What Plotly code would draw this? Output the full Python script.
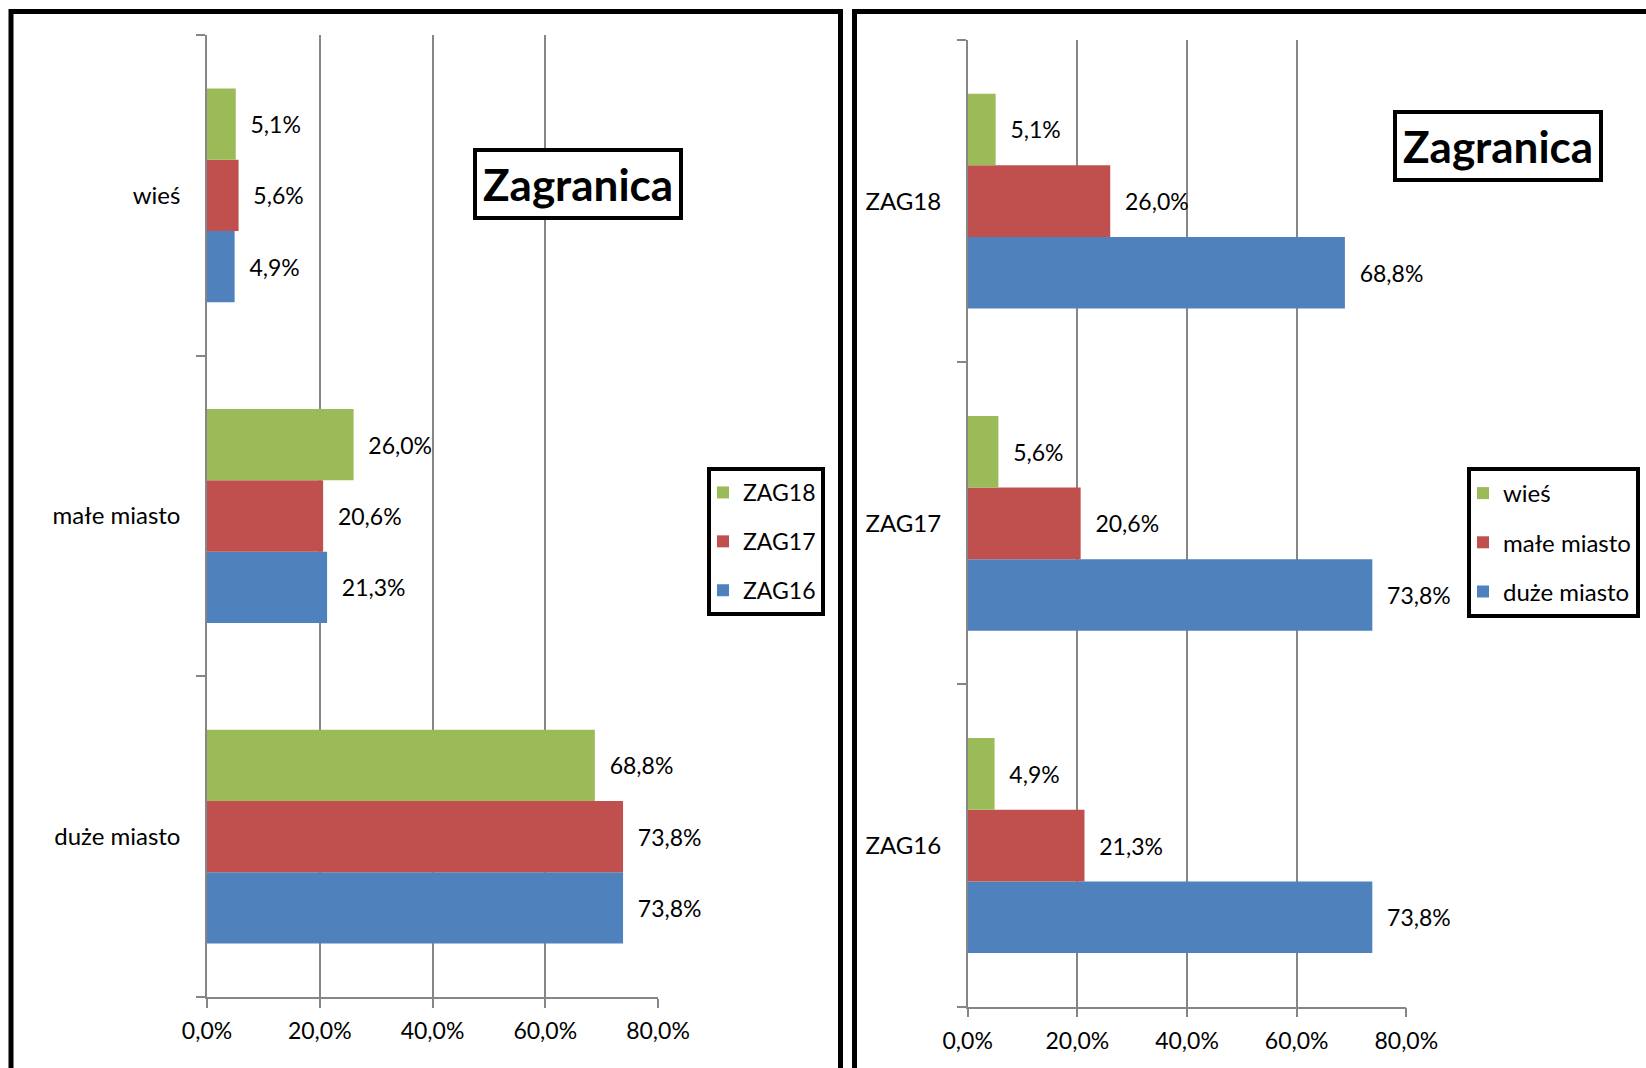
import plotly.graph_objects as go

W, H = 1646, 1068

# ---------------- data ----------------
places = ["duże miasto", "małe miasto", "wieś"]          # bottom -> top (left chart)
years = ["ZAG16", "ZAG17", "ZAG18"]                       # bottom -> top (right chart)

zag16 = [73.8, 21.3, 4.9]   # duże, małe, wieś
zag17 = [73.8, 20.6, 5.6]
zag18 = [68.8, 26.0, 5.1]

duze = [73.8, 73.8, 68.8]   # ZAG16, ZAG17, ZAG18
male = [21.3, 20.6, 26.0]
wies = [4.9, 5.6, 5.1]

tick_vals = [0, 20, 40, 60, 80]
tick_text = ["0,0%", "20,0%", "40,0%", "60,0%", "80,0%"]

title_text = "Zagranica"

GREEN, RED, BLUE = "#9BBB59", "#C0504D", "#4F81BD"
GRID = "#868686"
FONT = "Lato"


def fmt(v):
    return "\u00a0\u00a0" + f"{v:.1f}".replace(".", ",") + "%"


def px_x(p):
    return p / W


def px_y(p):
    return 1 - p / H


fig = go.Figure()

for rank, (name, vals, col) in zip([3, 2, 1], [("ZAG16", zag16, BLUE), ("ZAG17", zag17, RED), ("ZAG18", zag18, GREEN)]):
    fig.add_trace(go.Bar(
        y=places, x=vals, orientation="h", name=name, marker_color=col,
        marker_line_width=0, xaxis="x", yaxis="y", legend="legend",
        legendgroup="L" + name, legendrank=rank,
        text=[fmt(v) for v in vals], textposition="outside", cliponaxis=False,
        constraintext="none", textfont=dict(family=FONT, size=23, color="black"),
        hoverinfo="skip",
    ))

for rank, (name, vals, col) in zip([3, 2, 1], [("duże miasto", duze, BLUE), ("małe miasto", male, RED), ("wieś", wies, GREEN)]):
    fig.add_trace(go.Bar(
        y=years, x=vals, orientation="h", name=name, marker_color=col,
        marker_line_width=0, xaxis="x2", yaxis="y2", legend="legend2",
        legendgroup="R" + name, legendrank=rank,
        text=[fmt(v) for v in vals], textposition="outside", cliponaxis=False,
        constraintext="none", textfont=dict(family=FONT, size=23, color="black"),
        hoverinfo="skip",
    ))

xaxis_common = dict(
    range=[0, 80], tickvals=tick_vals, ticktext=tick_text,
    showgrid=True, gridcolor=GRID, gridwidth=1.5, zeroline=False,
    showline=True, linecolor=GRID, linewidth=1.5,
    ticks="outside", ticklen=9, tickcolor=GRID, tickwidth=1.5,
    ticklabelstandoff=4,
    tickfont=dict(family=FONT, size=23, color="black"),
    fixedrange=True, automargin=False,
)
yaxis_common = dict(
    type="category", showgrid=False, zeroline=False,
    showline=True, linecolor=GRID, linewidth=1.5,
    ticks="outside", ticklen=9, tickcolor=GRID, tickwidth=1.5,
    tickson="boundaries", ticklabelstandoff=20,
    tickfont=dict(family=FONT, size=24, color="black"),
    fixedrange=True, automargin=False,
)

legend_common = dict(
    bordercolor="black", borderwidth=4, bgcolor="white",
    traceorder="grouped", indentation=-8,
    xanchor="left", yanchor="top",
)

fig.update_layout(
    width=W, height=H,
    margin=dict(l=0, r=0, t=0, b=0, autoexpand=False),
    paper_bgcolor="white", plot_bgcolor="white",
    barmode="group", bargap=0.333, bargroupgap=0,
    font=dict(family=FONT, size=23, color="black"),
    xaxis=dict(domain=[px_x(207), px_x(658)], anchor="y", **xaxis_common),
    yaxis=dict(domain=[px_y(997), px_y(35)], anchor="x",
               categoryorder="array", categoryarray=places, **yaxis_common),
    xaxis2=dict(domain=[px_x(967.7), px_x(1406.3)], anchor="y2", **xaxis_common),
    yaxis2=dict(domain=[px_y(1006.7), px_y(40)], anchor="x2",
                categoryorder="array", categoryarray=years, **yaxis_common),
    legend=dict(x=px_x(707), y=px_y(467), tracegroupgap=16,
                font=dict(family=FONT, size=23, color="black"), **legend_common),
    legend2=dict(x=px_x(1467), y=px_y(467), tracegroupgap=15,
                 font=dict(family=FONT, size=24, color="black"), **legend_common),
    showlegend=True,
)

# title boxes
for cx, cy in [(577.5, 183.5), (1497.5, 146.5)]:
    fig.add_annotation(
        xref="paper", yref="paper", x=px_x(cx), y=px_y(cy),
        xanchor="center", yanchor="middle", showarrow=False,
        text="<b>" + title_text + "</b>",
        font=dict(family=FONT, size=44, color="black"),
        bordercolor="black", borderwidth=4, borderpad=6, bgcolor="white",
    )

# panel frames
fig.add_shape(type="rect", xref="paper", yref="paper",
              x0=px_x(11), x1=px_x(840.5), y0=px_y(11.5), y1=px_y(1120),
              line=dict(color="black", width=5), layer="above")
fig.add_shape(type="rect", xref="paper", yref="paper",
              x0=px_x(854.5), x1=px_x(1720), y0=px_y(11.5), y1=px_y(1120),
              line=dict(color="black", width=5), layer="above")

fig.write_html("out.html", config={"displayModeBar": False},
               post_script="document.body.style.margin='0';document.body.style.overflow='hidden';")
